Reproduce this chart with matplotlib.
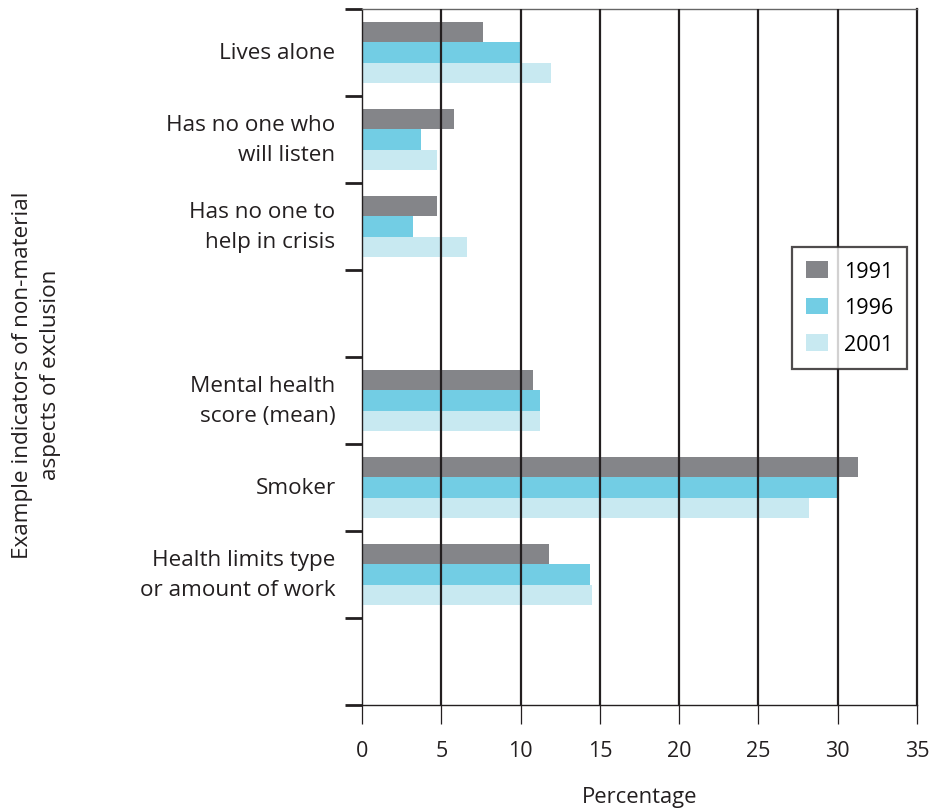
import numpy as np
import matplotlib
matplotlib.use("Agg")
import matplotlib.pyplot as plt

plt.rcParams["font.family"] = ["Open Sans", "DejaVu Sans"]

categories = [
    "Lives alone",
    "Has no one who\nwill listen",
    "Has no one to\nhelp in crisis",
    "Mental health\nscore (mean)",
    "Smoker",
    "Health limits type\nor amount of work",
]
years = ["1991", "1996", "2001"]
v1991 = [7.6, 5.8, 4.7, 10.8, 31.3, 11.8]
v1996 = [10.0, 3.7, 3.2, 11.2, 30.0, 14.4]
v2001 = [11.9, 4.7, 6.6, 11.2, 28.2, 14.5]
colors = ["#848589", "#72cde4", "#c8e9f1"]
xticks = [0, 5, 10, 15, 20, 25, 30, 35]

# slots: a blank slot between the social and health groups, and one at the end
pos = np.arange(len(categories)) + (np.arange(len(categories)) >= 3)
nslots = 8
h = 0.233

fig = plt.figure(figsize=(9.34, 8.12), dpi=100)
ax = fig.add_axes([362 / 934, 1 - 706 / 812, (917 - 362) / 934, (706 - 10) / 812])

for k, (vals, col, yr) in enumerate(zip([v1991, v1996, v2001], colors, years)):
    ax.barh(pos + (k - 1) * h, vals, height=h, color=col, label=yr, zorder=2)

ax.set_xlim(0, 35)
ax.set_ylim(nslots - 0.5, -0.5)

# vertical gridlines
for x in xticks[1:-1]:
    ax.axvline(x, color="#231f20", lw=1.6, zorder=3)

ax.set_xticks(xticks)
ax.set_xticklabels([str(x) for x in xticks], fontsize=15.5, color="#231f20")
ax.tick_params(axis="x", direction="out", length=14, width=0.9, color="#231f20", pad=11)

ax.set_yticks(np.arange(nslots + 1) - 0.5)
ax.set_yticklabels([])
ax.tick_params(axis="y", which="major", direction="out", length=12, width=2, color="#231f20")
ax.set_yticks(pos, minor=True)
ax.set_yticklabels(categories, minor=True, fontsize=16.2, color="#231f20",
                   ha="right", va="center", linespacing=1.62)
ax.tick_params(axis="y", which="minor", length=0, pad=19)

for side in ["left", "bottom"]:
    ax.spines[side].set_color("#231f20")
    ax.spines[side].set_linewidth(1.0)
ax.spines["top"].set_color("#666666")
ax.spines["top"].set_linewidth(1.0)
ax.spines["right"].set_color("#231f20")
ax.spines["right"].set_linewidth(1.6)

ax.set_xlabel("Percentage", fontsize=15.8, color="#231f20", labelpad=18)
fig.text(0.039, 0.538, "Example indicators of non-material\naspects of exclusion",
         rotation=90, ha="center", va="center", fontsize=16.2, color="#231f20",
         linespacing=1.45)

leg = ax.legend(loc="upper right", bbox_to_anchor=(907 / 934, 1 - 248 / 812),
                bbox_transform=fig.transFigure, borderaxespad=0, fontsize=15.5,
                frameon=True, fancybox=False, handlelength=1.0, handleheight=0.8,
                labelspacing=0.72, borderpad=0.65, handletextpad=0.75)
leg.get_frame().set_edgecolor("#231f20")
leg.get_frame().set_linewidth(1.6)
leg.set_zorder(5)

fig.savefig("out.png", dpi=100)
